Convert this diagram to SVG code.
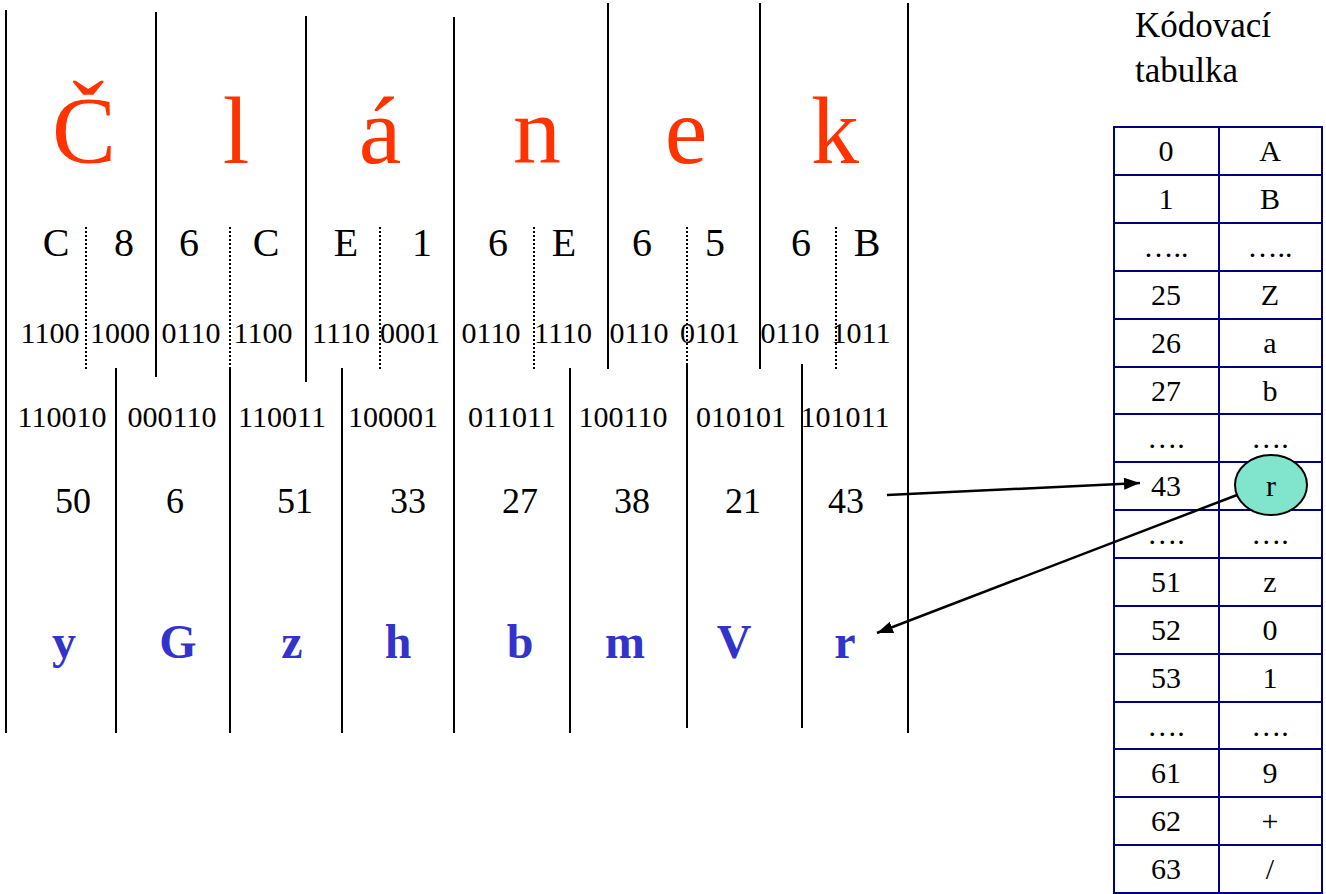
<svg xmlns="http://www.w3.org/2000/svg" width="1326" height="894" viewBox="0 0 1326 894" font-family="Liberation Serif">
<defs>
  <marker id="arrow" markerUnits="userSpaceOnUse" markerWidth="18" markerHeight="14" refX="16" refY="6" orient="auto">
    <path d="M0,0 L16,6 L0,12 z" fill="#000"/>
  </marker>
</defs>
<rect x="0" y="0" width="1326" height="894" fill="#fff"/>

<g id="separators" stroke="#000" stroke-width="2" fill="none">
  <line x1="6" y1="10" x2="6" y2="733"/>
  <line x1="908" y1="3" x2="908" y2="733"/>
  <line x1="156" y1="12" x2="156" y2="377"/>
  <line x1="306" y1="16" x2="306" y2="382"/>
  <line x1="454" y1="17" x2="454" y2="733"/>
  <line x1="608" y1="3" x2="608" y2="369"/>
  <line x1="760" y1="3" x2="760" y2="369"/>
  <line x1="116" y1="368" x2="116" y2="733"/>
  <line x1="230" y1="368" x2="230" y2="733"/>
  <line x1="342" y1="368" x2="342" y2="733"/>
  <line x1="570" y1="368" x2="570" y2="733"/>
  <line x1="687" y1="364" x2="687" y2="728"/>
  <line x1="802" y1="364" x2="802" y2="728"/>
</g>
<g id="nibble-separators" stroke="#000" stroke-width="2" stroke-dasharray="2 2" fill="none">
  <line x1="86" y1="227" x2="86" y2="369"/>
  <line x1="230" y1="227" x2="230" y2="368"/>
  <line x1="380" y1="227" x2="380" y2="369"/>
  <line x1="534" y1="227" x2="534" y2="369"/>
  <line x1="687" y1="227" x2="687" y2="364"/>
  <line x1="836" y1="227" x2="836" y2="369"/>
</g>

<g id="word" font-family="Liberation Serif" font-size="96" fill="#FF3300" text-anchor="middle">
  <text x="84" y="163">Č</text>
  <text x="236" y="163">l</text>
  <text x="380" y="163">á</text>
  <text x="537" y="163">n</text>
  <text x="686" y="163">e</text>
  <text x="835" y="163">k</text>
</g>

<g id="hex" font-family="Liberation Serif" font-size="40" fill="#000" text-anchor="middle">
  <text x="56" y="256">C</text>
  <text x="124" y="256">8</text>
  <text x="189" y="256">6</text>
  <text x="266" y="256">C</text>
  <text x="346" y="256">E</text>
  <text x="422" y="256">1</text>
  <text x="498" y="256">6</text>
  <text x="564" y="256">E</text>
  <text x="642" y="256">6</text>
  <text x="715" y="256">5</text>
  <text x="801" y="256">6</text>
  <text x="867" y="256">B</text>
</g>

<g id="bits4" font-family="Liberation Serif" font-size="30" fill="#000" text-anchor="middle">
  <text x="50" y="343">1100</text>
  <text x="120" y="343">1000</text>
  <text x="191" y="343">0110</text>
  <text x="263" y="343">1100</text>
  <text x="341" y="343">1110</text>
  <text x="410" y="343">0001</text>
  <text x="491" y="343">0110</text>
  <text x="563" y="343">1110</text>
  <text x="639" y="343">0110</text>
  <text x="710" y="343">0101</text>
  <text x="790" y="343">0110</text>
  <text x="861" y="343">1011</text>
</g>

<g id="bits6" font-family="Liberation Serif" font-size="30" fill="#000" text-anchor="middle">
  <text x="62" y="427">110010</text>
  <text x="172" y="427">000110</text>
  <text x="282" y="427">110011</text>
  <text x="393" y="427">100001</text>
  <text x="512" y="427">011011</text>
  <text x="623" y="427">100110</text>
  <text x="741" y="427">010101</text>
  <text x="845" y="427">101011</text>
</g>

<g id="values" font-family="Liberation Serif" font-size="36" fill="#000" text-anchor="middle">
  <text x="73" y="513">50</text>
  <text x="175" y="513">6</text>
  <text x="295" y="513">51</text>
  <text x="408" y="513">33</text>
  <text x="520" y="513">27</text>
  <text x="632" y="513">38</text>
  <text x="743" y="513">21</text>
  <text x="846" y="513">43</text>
</g>

<g id="output" font-family="Liberation Serif" font-size="48" font-weight="bold" fill="#3333CC" text-anchor="middle">
  <text x="64" y="658">y</text>
  <text x="178" y="658">G</text>
  <text x="292" y="658">z</text>
  <text x="398" y="658">h</text>
  <text x="520" y="658">b</text>
  <text x="625" y="658">m</text>
  <text x="734" y="658">V</text>
  <text x="845" y="658">r</text>
</g>

<g id="table-title" font-family="Liberation Serif" font-size="35" fill="#000">
  <text x="1135" y="37">Kódovací</text>
  <text x="1135" y="82">tabulka</text>
</g>

<g id="table">
  <g id="table-grid" stroke="#000080" stroke-width="2" fill="none">
    <rect x="1114" y="127" width="208" height="766"/>
    <line x1="1219" y1="127" x2="1219" y2="893"/>
    <line x1="1114" y1="175" x2="1322" y2="175"/>
    <line x1="1114" y1="223" x2="1322" y2="223"/>
    <line x1="1114" y1="271" x2="1322" y2="271"/>
    <line x1="1114" y1="319" x2="1322" y2="319"/>
    <line x1="1114" y1="367" x2="1322" y2="367"/>
    <line x1="1114" y1="414" x2="1322" y2="414"/>
    <line x1="1114" y1="462" x2="1322" y2="462"/>
    <line x1="1114" y1="510" x2="1322" y2="510"/>
    <line x1="1114" y1="558" x2="1322" y2="558"/>
    <line x1="1114" y1="606" x2="1322" y2="606"/>
    <line x1="1114" y1="654" x2="1322" y2="654"/>
    <line x1="1114" y1="702" x2="1322" y2="702"/>
    <line x1="1114" y1="749" x2="1322" y2="749"/>
    <line x1="1114" y1="797" x2="1322" y2="797"/>
    <line x1="1114" y1="845" x2="1322" y2="845"/>
  </g>
  <ellipse id="highlight" cx="1271" cy="485" rx="36" ry="30" fill="#80E5CC" stroke="#000" stroke-width="2"/>
  <g id="table-cells" font-family="Liberation Serif" font-size="30" fill="#000" text-anchor="middle">
    <g id="row-0"><text x="1166" y="161">0</text><text x="1270" y="161">A</text></g>
    <g id="row-1"><text x="1166" y="209">1</text><text x="1270" y="209">B</text></g>
    <g id="row-gap1"><text x="1166" y="257">…..</text><text x="1270" y="257">…..</text></g>
    <g id="row-25"><text x="1166" y="305">25</text><text x="1270" y="305">Z</text></g>
    <g id="row-26"><text x="1166" y="353">26</text><text x="1270" y="353">a</text></g>
    <g id="row-27"><text x="1166" y="401">27</text><text x="1270" y="401">b</text></g>
    <g id="row-gap2"><text x="1166" y="448">….</text><text x="1270" y="448">….</text></g>
    <g id="row-43"><text x="1166" y="496">43</text><text x="1271" y="496">r</text></g>
    <g id="row-gap3"><text x="1166" y="544">….</text><text x="1270" y="544">….</text></g>
    <g id="row-51"><text x="1166" y="592">51</text><text x="1270" y="592">z</text></g>
    <g id="row-52"><text x="1166" y="640">52</text><text x="1270" y="640">0</text></g>
    <g id="row-53"><text x="1166" y="688">53</text><text x="1270" y="688">1</text></g>
    <g id="row-gap4"><text x="1166" y="736">….</text><text x="1270" y="736">….</text></g>
    <g id="row-61"><text x="1166" y="783">61</text><text x="1270" y="783">9</text></g>
    <g id="row-62"><text x="1166" y="831">62</text><text x="1270" y="831">+</text></g>
    <g id="row-63"><text x="1166" y="879">63</text><text x="1270" y="879">/</text></g>
  </g>
</g>

<g id="connectors" stroke="#000" stroke-width="2.5" fill="none">
  <line x1="887" y1="495" x2="1140" y2="483" marker-end="url(#arrow)"/>
  <line x1="1237" y1="495" x2="877" y2="633" marker-end="url(#arrow)"/>
</g>
</svg>
